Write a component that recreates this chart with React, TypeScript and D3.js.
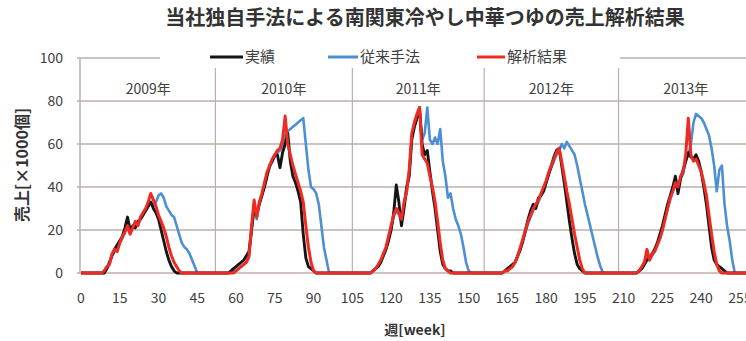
import React from 'react';
import * as d3 from 'd3';

// Weekly sales [x1000], weeks 0..259 (5 years x 52 weeks)
const actual: number[] = [
  // 2009
  0,0,0,0,0,0,0,0,0,0,2,5,8,11,13,15,17,21,26,20,22,21,24,25,27,29,31,33,30,28,25,20,15,10,6,3,1,0,0,0,0,0,0,0,0,0,0,0,0,0,0,0,
  // 2010
  0,0,0,0,0,0,1,2,3,4,5,6,8,10,20,30,28,32,36,40,45,50,52,55,55,49,56,60,65,52,45,42,38,33,18,7,3,2,1,0,0,0,0,0,0,0,0,0,0,0,0,0,
  // 2011
  0,0,0,0,0,0,0,0,0,1,2,3,5,8,11,15,20,28,41,33,22,30,40,45,62,68,72,77,60,55,57,47,38,30,20,10,4,2,1,1,0,0,0,0,0,0,0,0,0,0,0,0,
  // 2012
  0,0,0,0,0,0,0,0,1,2,3,4,5,8,11,15,20,25,29,32,30,35,36,38,42,46,50,54,57,58,50,42,33,24,16,9,4,2,1,0,0,0,0,0,0,0,0,0,0,0,0,0,
  // 2013
  0,0,0,0,0,0,0,0,1,2,4,6,7,9,11,14,18,22,27,32,36,40,45,37,44,48,52,56,54,53,55,52,47,40,32,22,12,6,4,3,2,1,0,0,0,0,0,0,0,0,0,0,
];

const conventional: number[] = [
  // 2009
  0,0,0,0,0,0,0,0,0,0,2,4,8,10,11,14,16,19,21,19,21,23,22,25,27,29,31,33,31,33,36,37,35,31,29,27,26,22,18,14,12,11,9,6,3,0,0,0,0,0,0,0,
  // 2010
  0,0,0,0,0,0,0,1,1,2,3,4,5,7,20,32,25,32,36,41,46,49,52,54,56,57,60,64,66,67,68,69,70,71,72,60,48,40,39,37,32,22,12,6,0,0,0,0,0,0,0,0,
  // 2011
  0,0,0,0,0,0,0,0,0,1,2,3,5,8,11,16,21,26,29,27,24,32,37,46,63,68,72,75,62,65,77,62,60,63,60,67,52,45,35,37,30,25,22,18,12,5,1,0,0,0,0,0,
  // 2012
  0,0,0,0,0,0,0,0,1,1,2,3,5,8,11,15,19,23,26,29,31,33,36,39,42,46,49,52,55,57,60,58,61,59,57,55,50,44,38,32,27,22,17,12,7,3,0,0,0,0,0,0,
  // 2013
  0,0,0,0,0,0,0,0,1,2,4,8,6,8,10,13,16,20,25,30,34,38,41,39,44,46,52,55,60,70,74,73,72,70,67,64,58,50,38,48,50,32,22,15,6,0,0,0,0,0,0,0,
];

const analysis: number[] = [
  // 2009
  0,0,0,0,0,0,0,0,0,1,3,4,9,11,10,14,17,19,22,18,21,24,22,26,28,30,33,37,34,31,27,24,21,17,12,8,5,3,1,0,0,0,0,0,0,0,0,0,0,0,0,0,
  // 2010
  0,0,0,0,0,0,0,0,1,2,3,4,5,8,22,34,26,33,37,42,47,50,53,55,57,58,62,73,60,55,50,46,42,38,33,22,12,5,1,0,0,0,0,0,0,0,0,0,0,0,0,0,
  // 2011
  0,0,0,0,0,0,0,0,0,1,2,4,6,9,12,17,22,27,30,28,25,33,38,48,65,70,74,77,55,53,51,45,40,33,24,14,6,2,1,0,0,0,0,0,0,0,0,0,0,0,0,0,
  // 2012
  0,0,0,0,0,0,0,0,1,1,2,3,5,8,12,16,20,24,27,30,32,34,37,40,43,47,50,53,56,58,52,45,38,32,25,18,12,6,2,0,0,0,0,0,0,0,0,0,0,0,0,0,
  // 2013
  0,0,0,0,0,0,0,0,1,3,5,11,6,9,10,13,16,20,25,30,35,38,42,40,45,47,55,72,55,52,53,50,47,42,36,27,18,10,4,1,0,0,0,0,0,0,0,0,0,0,0,0,
];

const xTicks = [0, 15, 30, 45, 60, 75, 90, 105, 120, 135, 150, 165, 180, 195, 210, 225, 240, 255];
const yTicks = [0, 20, 40, 60, 80, 100];
const yearLabels = ['2009年', '2010年', '2011年', '2012年', '2013年'];
const yearBounds = [0, 52, 105, 156, 208, 260];

const seriesNames = ['実績', '従来手法', '解析結果'];
const seriesColors = ['#151515', '#4d8fd3', '#ee2b22'];

const title = '当社独自手法による南関東冷やし中華つゆの売上解析結果';
const yTitle = '売上[×1000個]';
const xTitle = '週[week]';

const W = 746;
const H = 341;
const FONT = "'Noto Sans CJK JP', 'Noto Sans', sans-serif";
const GRID = '#bcaea8';
const TXT = '#404040';

export default function App() {
  const x = d3.scaleLinear().domain([0, 255]).range([81, 740]);
  const y = d3.scaleLinear().domain([0, 100]).range([273, 58]);

  const line = d3
    .line<number>()
    .x((_, i) => x(i))
    .y((d) => y(d));

  const data = [conventional, actual, analysis];
  const colors = [seriesColors[1], seriesColors[0], seriesColors[2]];
  const widths = [2.6, 2.9, 3];

  const legendItems = [
    { name: seriesNames[0], color: seriesColors[0], x0: 210, x1: 243 },
    { name: seriesNames[1], color: seriesColors[1], x0: 328, x1: 358 },
    { name: seriesNames[2], color: seriesColors[2], x0: 477, x1: 505 },
  ];

  return (
    <div style={{ position: 'absolute', left: 0, top: 0 }}>
      <svg width={W} height={H} style={{ display: 'block', background: '#fff' }} fontFamily={FONT}>
        <rect x={0} y={0} width={W} height={H} fill="#fff" />
        <text x={425} y={25} textAnchor="middle" fontSize={20} fontWeight={700} fill="#333">
          {title}
        </text>

        {/* horizontal gridlines */}
        {yTicks.map((t) => (
          <line key={'g' + t} x1={x(0) - 4} x2={W} y1={y(t)} y2={y(t)} stroke={GRID} strokeWidth={1.6} />
        ))}
        {/* year dividers */}
        {yearBounds.slice(1, -1).map((b) => (
          <line key={'v' + b} x1={x(b)} x2={x(b)} y1={y(100)} y2={y(0)} stroke={GRID} strokeWidth={1.2} />
        ))}
        {/* y axis line */}
        <line x1={x(0) - 1} x2={x(0) - 1} y1={y(100)} y2={y(0)} stroke={GRID} strokeWidth={1.5} />

        {/* legend box */}
        <rect x={160} y={46} width={460} height={22} fill="#fff" />
        {legendItems.map((it) => (
          <g key={it.name}>
            <line x1={it.x0} x2={it.x1} y1={57} y2={57} stroke={it.color} strokeWidth={3} />
            <text x={it.x1 + 2} y={62} fontSize={15} fill={TXT}>
              {it.name}
            </text>
          </g>
        ))}

        {/* year labels */}
        {yearLabels.map((lab, i) => (
          <text
            key={lab}
            x={(x(yearBounds[i]) + x(yearBounds[i + 1])) / 2}
            y={94}
            textAnchor="middle"
            fontSize={14}
            fill={TXT}
          >
            {lab}
          </text>
        ))}

        {/* y tick labels */}
        {yTicks.map((t) => (
          <text key={'yt' + t} x={63} y={y(t) + 5} textAnchor="end" fontSize={14} fill={TXT}>
            {t}
          </text>
        ))}
        {/* x tick labels */}
        {xTicks.map((t) => (
          <text key={'xt' + t} x={x(t)} y={303} textAnchor="middle" fontSize={14} fill={TXT}>
            {t}
          </text>
        ))}

        {/* series */}
        {data.map((d, i) => (
          <path
            key={'s' + i}
            d={line(d) || ''}
            fill="none"
            stroke={colors[i]}
            strokeWidth={widths[i]}
            strokeLinejoin="round"
          />
        ))}

        {/* axis titles */}
        <text
          transform={`translate(28,165) rotate(-90)`}
          textAnchor="middle"
          fontSize={16}
          fontWeight={700}
          fill="#333"
        >
          {yTitle}
        </text>
        <text x={415} y={335} textAnchor="middle" fontSize={14} fontWeight={700} fill="#333">
          {xTitle}
        </text>
      </svg>
    </div>
  );
}
